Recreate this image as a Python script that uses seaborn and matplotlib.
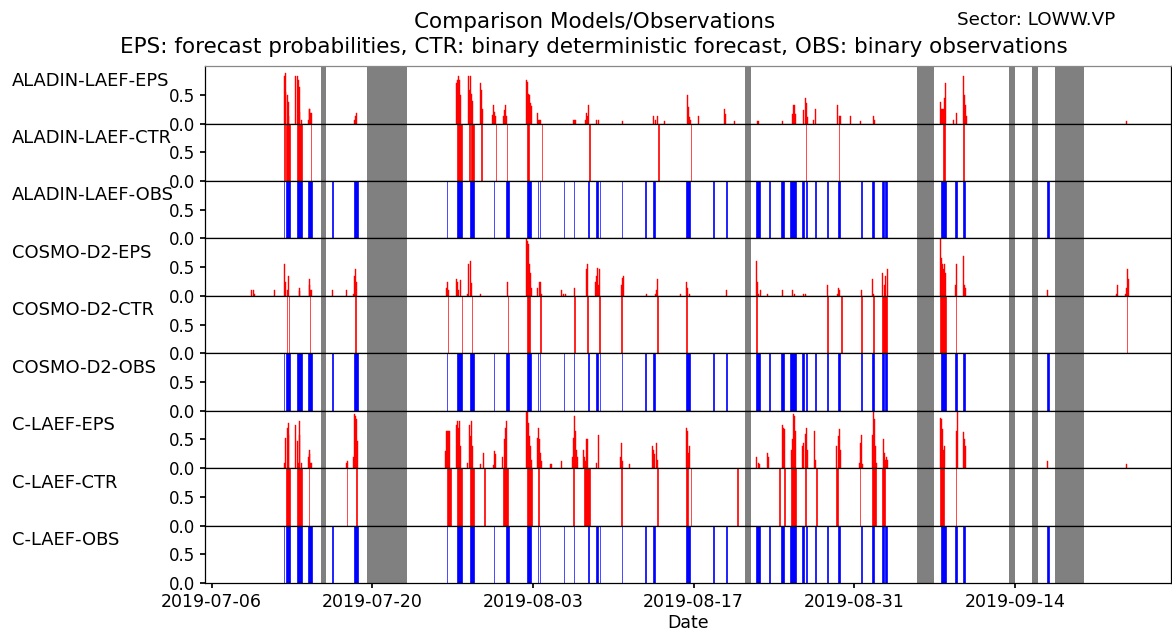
import numpy as np
import pandas as pd
import matplotlib
matplotlib.use("Agg")
import matplotlib.pyplot as plt
import matplotlib.dates as mdates
import seaborn as sns

# Days counted from 2019-07-06 00 UTC
start = pd.Timestamp("2019-07-06")

# Periods without data (grey bands)
missing_start = [9.5, 13.5, 46.5, 61.5, 69.5, 71.5, 73.5]
missing_end = [10.0, 17.0, 47.0, 63.0, 70.0, 72.0, 76.0]

# ALADIN-LAEF
aladin_eps_day = [6.31, 6.40, 6.48, 6.57, 6.66, 6.74,
                  7.35, 7.44, 7.53, 7.62, 7.70, 7.79,
                  8.40, 8.49, 8.57, 8.66,
                  12.49, 12.58, 12.66,
                  21.37, 21.45, 21.54, 21.63, 21.71,
                  22.41, 22.50, 22.58, 22.67, 22.76,
                  23.46, 23.54, 23.63,
                  24.50, 24.59, 24.67, 24.76,
                  25.46, 25.54, 25.63, 25.72,
                  27.43, 27.55, 27.65, 27.72, 27.80, 27.89,
                  28.42, 28.50, 28.59, 28.68,
                  31.55, 31.63, 31.72,
                  32.59, 32.68, 32.77, 32.85,
                  33.55, 33.73, 35.81,
                  38.51, 38.69, 38.86, 39.47,
                  41.47, 41.55, 41.64, 41.73, 42.43,
                  44.69, 44.78, 45.56, 47.56, 47.65, 49.74,
                  50.61, 50.70, 50.78, 50.87,
                  51.57, 51.74, 51.83, 51.92,
                  52.44, 52.61,
                  54.53, 54.70, 54.79, 55.66, 56.53,
                  57.67, 57.75,
                  63.49, 63.58, 63.66, 63.75, 63.84, 63.92,
                  64.62, 64.88,
                  65.49, 65.58, 65.67, 65.75,
                  79.77]
aladin_eps_prob = [0.83, 0.88, 0.55, 0.50, 0.38, 0.13,
                   0.83, 0.83, 0.76, 0.64, 0.20, 0.06,
                   0.06, 0.26, 0.26, 0.19,
                   0.06, 0.13, 0.19,
                   0.70, 0.76, 0.83, 0.76, 0.50,
                   0.83, 0.58, 0.83, 0.52, 0.40,
                   0.70, 0.58, 0.26,
                   0.15, 0.32, 0.20, 0.13,
                   0.13, 0.23, 0.32, 0.13,
                   0.76, 0.73, 0.52, 0.49, 0.35, 0.30,
                   0.19, 0.06, 0.06, 0.06,
                   0.06, 0.06, 0.06,
                   0.06, 0.19, 0.13, 0.32,
                   0.06, 0.06, 0.04,
                   0.13, 0.06, 0.13, 0.04,
                   0.49, 0.29, 0.12, 0.06, 0.13,
                   0.26, 0.17, 0.04, 0.05, 0.05, 0.04,
                   0.17, 0.32, 0.32, 0.17,
                   0.23, 0.44, 0.35, 0.12,
                   0.06, 0.26,
                   0.32, 0.13, 0.13, 0.13, 0.04,
                   0.13, 0.06,
                   0.38, 0.26, 0.26, 0.26, 0.44, 0.70,
                   0.06, 0.19,
                   0.83, 0.49, 0.32, 0.13,
                   0.04]
aladin_ctr_start = [6.31, 6.48, 7.40, 8.62, 21.37, 22.41, 22.58, 23.46, 24.76, 25.72,
                    27.50, 28.76, 32.90, 38.93, 41.75, 51.80, 54.66, 63.75, 65.49]
aladin_ctr_end = [6.40, 6.83, 7.88, 8.70, 21.80, 22.50, 22.85, 23.60, 24.80, 25.78,
                  27.63, 28.80, 32.94, 38.97, 41.79, 51.84, 54.70, 63.90, 65.53]

# COSMO-D2
cosmo_eps_day = [3.46, 3.61, 3.70, 5.44,
                 6.31, 6.48, 6.57, 6.74,
                 7.62, 7.70,
                 8.49, 8.57, 8.66,
                 10.57, 11.79,
                 12.40, 12.49, 12.58, 12.66,
                 20.50, 20.58, 20.67,
                 21.37, 21.45, 21.54, 21.71,
                 22.32, 22.41, 22.58, 22.67,
                 23.46, 25.81,
                 27.46, 27.55, 27.63, 27.72, 27.80, 27.89,
                 28.42, 28.59, 28.68, 28.76,
                 30.50, 30.68, 30.85, 31.63,
                 32.68, 32.77,
                 33.46, 33.55, 33.64, 33.73, 33.81,
                 35.73, 35.81, 35.90, 37.90,
                 38.69, 38.77, 38.86, 40.86,
                 41.38, 41.47, 41.64, 44.86,
                 47.48, 47.56, 47.65, 47.83, 48.43, 49.74,
                 50.61, 50.78, 51.57, 51.74, 53.66,
                 54.53, 54.62, 54.70, 56.62,
                 57.58, 57.67,
                 58.45, 58.62, 58.71, 58.88,
                 63.49, 63.58, 63.66, 63.75, 63.84, 63.92,
                 64.80, 64.88,
                 65.49, 65.58, 65.67,
                 72.89, 78.89, 78.98,
                 79.68, 79.77, 79.86, 79.94]
cosmo_eps_prob = [0.10, 0.10, 0.04, 0.10,
                  0.55, 0.24, 0.10, 0.34,
                  0.14, 0.09,
                  0.29, 0.19, 0.10,
                  0.10, 0.10,
                  0.04, 0.34, 0.46, 0.24,
                  0.14, 0.25, 0.10,
                  0.29, 0.25, 0.10, 0.28,
                  0.04, 0.55, 0.60, 0.22,
                  0.04, 0.25,
                  0.99, 0.96, 0.90, 0.55, 0.40, 0.14,
                  0.14, 0.25, 0.25, 0.04,
                  0.10, 0.04, 0.04, 0.14,
                  0.46, 0.55,
                  0.25, 0.34, 0.49, 0.19, 0.46,
                  0.19, 0.31, 0.34, 0.04,
                  0.04, 0.10, 0.29, 0.04,
                  0.24, 0.14, 0.04, 0.10,
                  0.60, 0.24, 0.04, 0.10, 0.04, 0.10,
                  0.10, 0.04, 0.04, 0.04, 0.19,
                  0.04, 0.14, 0.10, 0.10,
                  0.29, 0.04,
                  0.40, 0.19, 0.34, 0.46,
                  1.00, 0.66, 0.55, 0.46, 0.55, 0.40,
                  0.19, 0.55,
                  0.69, 0.19, 0.14,
                  0.10, 0.04, 0.19,
                  0.04, 0.14, 0.46, 0.29]
cosmo_ctr_start = [6.55, 6.73, 8.55, 12.53, 20.56, 21.78, 22.65, 25.79, 27.46, 28.66,
                   31.61, 32.75, 33.79, 35.64, 38.84, 41.38, 47.48, 53.66, 54.86,
                   56.62, 57.67, 58.45, 63.49, 64.86, 79.77]
cosmo_ctr_end = [6.59, 6.77, 8.59, 12.57, 20.60, 21.82, 22.69, 25.83, 27.72, 28.70,
                 31.65, 32.79, 33.83, 35.73, 38.88, 41.42, 47.52, 53.70, 54.90,
                 56.66, 57.71, 58.88, 64.01, 64.90, 79.81]

# C-LAEF
claef_eps_day = [6.31, 6.48, 6.57, 6.66, 6.74,
                 7.35, 7.44, 7.53, 7.62, 7.70, 7.79,
                 8.40, 8.49, 8.57, 8.66,
                 11.79, 11.88,
                 12.40, 12.49, 12.58, 12.66, 12.75,
                 20.41, 20.50, 20.58, 20.67, 20.76,
                 21.37, 21.45, 21.54, 21.63, 21.71,
                 22.32, 22.50, 22.58, 22.67, 22.76,
                 23.46, 23.72,
                 24.59, 24.67, 24.76,
                 25.37, 25.54, 25.63, 25.72,
                 27.46, 27.55, 27.63, 27.72, 27.80, 27.89,
                 28.42, 28.50, 28.59, 28.68, 28.76,
                 29.55, 29.63, 30.50,
                 31.46, 31.55, 31.63, 31.72, 31.81, 31.90,
                 32.42, 32.51, 32.59, 32.68, 32.77,
                 33.55, 33.73,
                 35.64, 35.73, 35.81, 36.42,
                 38.43, 38.51, 38.60, 38.77, 38.86,
                 41.38, 41.47, 41.55, 41.64,
                 47.48, 47.65, 47.74,
                 48.43, 48.52,
                 49.74, 49.83, 49.91,
                 50.52, 50.61, 50.70, 50.78, 50.87,
                 51.48, 51.57, 51.74, 51.83, 51.92,
                 52.53, 52.61,
                 54.44, 54.62, 54.70, 54.79,
                 56.45, 56.53, 56.62, 56.71,
                 57.58, 57.67, 57.75, 57.84, 57.93,
                 58.53, 58.62, 58.71, 58.80, 58.88,
                 63.49, 63.58, 63.66, 63.75, 63.84,
                 64.88, 64.97,
                 65.49, 65.58, 65.67,
                 72.89, 79.77]
claef_eps_prob = [0.09, 0.53, 0.70, 0.79, 0.57,
                  0.76, 0.47, 0.09, 0.82, 0.57, 0.09,
                  0.20, 0.24, 0.32, 0.09,
                  0.09, 0.13,
                  0.20, 0.94, 0.91, 0.85, 0.47,
                  0.29, 0.65, 0.65, 0.65, 0.65,
                  0.76, 0.82, 0.70, 0.82, 0.38,
                  0.09, 0.76, 0.56, 0.82, 0.38,
                  0.08, 0.26,
                  0.06, 0.29, 0.24,
                  0.20, 0.50, 0.70, 0.82,
                  0.97, 1.00, 0.79, 0.56, 0.38, 0.15,
                  0.53, 0.70, 0.50, 0.26, 0.13,
                  0.08, 0.08, 0.12,
                  0.20, 0.53, 0.91, 0.65, 0.32, 0.20,
                  0.32, 0.20, 0.12, 0.51, 0.51,
                  0.09, 0.57,
                  0.20, 0.44, 0.12, 0.08,
                  0.39, 0.32, 0.25, 0.44, 0.15,
                  0.70, 0.65, 0.26, 0.38,
                  0.20, 0.09, 0.08,
                  0.26, 0.20,
                  0.76, 0.70, 0.68,
                  0.32, 0.50, 0.94, 0.91, 0.65,
                  0.38, 0.44, 0.59, 0.70, 0.32,
                  0.65, 0.15,
                  0.38, 0.56, 0.68, 0.32,
                  0.09, 0.44, 0.57, 0.08,
                  0.57, 0.98, 0.85, 0.38, 0.09,
                  0.51, 0.26, 0.15, 0.20, 0.15,
                  0.88, 0.85, 0.68, 0.32, 0.38,
                  0.65, 1.00,
                  0.63, 0.51, 0.38,
                  0.12, 0.08]
claef_ctr_start = [6.48, 7.44, 8.47, 11.77, 12.62, 20.50, 21.37, 22.50, 23.78, 25.37,
                   27.46, 28.48, 31.53, 32.42, 35.71, 38.84, 41.38, 41.78, 45.80,
                   49.46, 49.89, 50.52, 51.72, 52.68, 54.44, 56.51, 57.58, 58.45,
                   63.49, 64.86]
claef_ctr_end = [6.83, 7.88, 8.51, 11.81, 12.66, 20.84, 21.80, 22.85, 23.82, 25.81,
                 27.89, 28.52, 31.57, 32.94, 35.75, 38.88, 41.55, 41.82, 45.84,
                 49.50, 49.93, 50.96, 51.76, 52.72, 54.62, 56.55, 57.93, 58.71,
                 63.84, 64.90]

# Observations (same for all models)
obs_start = [6.31, 6.48, 7.44, 8.40, 10.49, 12.40, 20.50, 21.37, 22.50, 24.60,
             25.63, 27.46, 28.42, 28.59, 30.68, 31.55, 32.77, 33.46, 33.81, 35.73,
             37.81, 38.43, 41.38, 43.73, 44.86, 47.48, 48.61, 49.65, 50.43, 51.48,
             51.83, 52.61, 53.66, 54.62, 56.62, 57.58, 58.45, 58.71, 63.58, 64.80,
             65.49, 72.80]
obs_end = [6.34, 6.83, 7.88, 8.75, 10.62, 12.75, 20.53, 21.80, 22.85, 24.64,
           25.89, 27.81, 28.45, 28.62, 30.71, 31.58, 32.85, 33.64, 33.84, 35.76,
           37.88, 38.60, 41.73, 43.76, 44.89, 47.83, 48.64, 49.91, 50.96, 51.65,
           51.86, 52.64, 53.69, 54.79, 56.68, 57.75, 58.62, 58.88, 64.01, 64.97,
           65.67, 72.97]

panel_names = ["ALADIN-LAEF-EPS", "ALADIN-LAEF-CTR", "ALADIN-LAEF-OBS",
               "COSMO-D2-EPS", "COSMO-D2-CTR", "COSMO-D2-OBS",
               "C-LAEF-EPS", "C-LAEF-CTR", "C-LAEF-OBS"]


def to_time(days):
    return start + pd.to_timedelta(np.asarray(days), unit="D")


def draw_eps(ax, days, probs):
    ax.bar(to_time(days), probs, width=pd.Timedelta(hours=2.1),
           color="red", edgecolor="red", linewidth=0.3, align="center")


def draw_binary(ax, starts, ends, color):
    widths = pd.to_timedelta(np.asarray(ends) - np.asarray(starts), unit="D")
    ax.bar(to_time(starts), np.ones(len(starts)), width=widths,
           color=color, edgecolor=color, linewidth=0.5, align="edge")


sns.set_theme(style="ticks", rc={"text.color": "black", "axes.labelcolor": "black",
                                 "xtick.color": "black", "ytick.color": "black",
                                 "axes.edgecolor": "black"})
plt.rcParams["font.family"] = ["DejaVu Sans"]

fig, axes = plt.subplots(9, 1, sharex=True, figsize=(11.72, 6.30), dpi=100)
fig.subplots_adjust(left=0.175, right=0.999, top=0.895, bottom=0.0746, hspace=0)

models = [(aladin_eps_day, aladin_eps_prob, aladin_ctr_start, aladin_ctr_end),
          (cosmo_eps_day, cosmo_eps_prob, cosmo_ctr_start, cosmo_ctr_end),
          (claef_eps_day, claef_eps_prob, claef_ctr_start, claef_ctr_end)]

for i, (eday, eprob, cs, ce) in enumerate(models):
    draw_eps(axes[3 * i], eday, eprob)
    draw_binary(axes[3 * i + 1], cs, ce, "red")
    draw_binary(axes[3 * i + 2], obs_start, obs_end, "blue")

for ax, name in zip(axes, panel_names):
    for s, e in zip(missing_start, missing_end):
        ax.axvspan(to_time([s])[0], to_time([e])[0], color="grey", lw=0)
    ax.set_ylim(0, 1)
    ax.set_yticks([0, 0.5])
    ax.set_yticklabels(["0.0", "0.5"])
    ax.tick_params(axis="y", labelsize=12, length=3.5)
    ax.tick_params(axis="x", bottom=False)
    for sp in ax.spines.values():
        sp.set_color("black")
        sp.set_linewidth(0.9)
    ax.text(-0.1996, 0.75, name, transform=ax.transAxes, fontsize=12.9,
            ha="left", va="center")

axes[0].spines["top"].set_color("#888888")

axes[-1].set_xlim(start - pd.Timedelta(days=0.57), start + pd.Timedelta(days=83.6))
axes[-1].set_xticks(pd.date_range("2019-07-06", periods=6, freq="14D"))
axes[-1].xaxis.set_major_formatter(mdates.DateFormatter("%Y-%m-%d"))
axes[-1].tick_params(axis="x", bottom=True, labelsize=12.5, length=3.5)
axes[-1].set_xlabel("Date", fontsize=12.5, labelpad=2)

fig.text(0.507, 1 - 22 / 630, "Comparison Models/Observations",
         fontsize=15.5, ha="center", va="center")
fig.text(0.507, 1 - 47 / 630,
         "EPS: forecast probabilities, CTR: binary deterministic forecast, "
         "OBS: binary observations", fontsize=15.5, ha="center", va="center")
fig.text(0.8166, 1 - 20 / 630, "Sector: LOWW.VP", fontsize=13.2, va="center")

fig.savefig("out.png", dpi=100)
